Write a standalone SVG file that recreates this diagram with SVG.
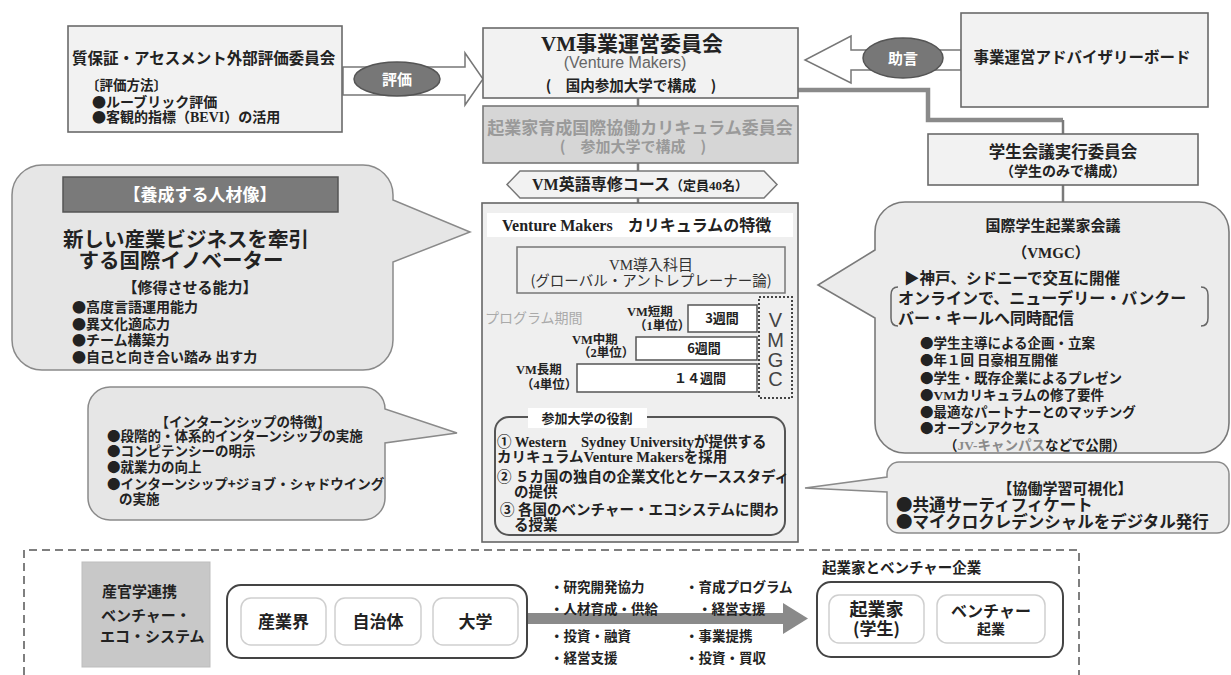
<svg xmlns="http://www.w3.org/2000/svg" width="1231" height="675" viewBox="0 0 1231 675">
<style>
text { fill:#222; }
.jp { font-family:"Noto Sans CJK JP","Liberation Sans",sans-serif; }
.sf { font-family:"Liberation Serif","Noto Sans CJK JP",serif; }
.ls { font-family:"Liberation Sans","Noto Sans CJK JP",sans-serif; }
.b { font-weight:700; }
.m { text-anchor:middle; }
.box { fill:#f2f2f2; stroke:#6a6a6a; stroke-width:1.6; }
.call { fill:#e6e6e6; stroke:#8a8a8a; stroke-width:1.5; }
.bar { fill:#ffffff; stroke:#555; stroke-width:1.5; }
.inner { fill:#ffffff; stroke:#cfcfcf; stroke-width:1.5; }
.cont { fill:#ffffff; stroke:#444; stroke-width:2; }
.line { stroke:#7a7a7a; stroke-width:2.5; fill:none; }
.barrow { fill:#ffffff; stroke:#777; stroke-width:1.5; }
.oval { fill:#777; stroke:#555; stroke-width:1.5; }
.wt { fill:#ffffff; }
.gr { fill:#9a9a9a; }
</style>

<g id="connectors">
  <polygon class="barrow" points="343,67 465,67 465,53 483,79 465,105 465,95 343,95"/>
  <polygon class="barrow" points="961,50 851,50 851,36 805,60 851,83 851,70 961,70"/>
  <path d="M798,90 H928 V120 H1063" stroke="#8a8a8a" stroke-width="4.5" fill="none"/>
  <path d="M1063,120 V134" class="line"/>
  <path d="M1063,185 V202" class="line"/>
  <path d="M638,98 V106 M638,163 V171 M638,198 V203" class="line"/>
  <rect x="527" y="613" width="256" height="11" fill="#8a8a8a"/>
  <polygon points="783,603 808,618.5 783,634" fill="#8a8a8a"/>
</g>

<g id="eval-label">
  <ellipse class="oval" cx="397" cy="79" rx="43" ry="17"/>
  <text class="jp b m wt" x="397" y="84.5" font-size="15">評価</text>
</g>
<g id="advice-label">
  <ellipse class="oval" cx="903" cy="58" rx="40" ry="20"/>
  <text class="jp b m wt" x="903" y="63.5" font-size="15">助言</text>
</g>

<g id="assessment-committee">
  <rect class="box" x="68" y="26" width="274" height="106"/>
  <text class="jp b" x="72" y="63.5" font-size="15.5">質保証・アセスメント外部評価委員会</text>
  <text class="jp b" x="86" y="90" font-size="13.5">〔評価方法〕</text>
  <text class="jp b" x="92" y="106.5" font-size="14">●ルーブリック評価</text>
  <text class="sf b" x="92" y="122" font-size="14"><tspan class="jp">●</tspan>客観的指標（BEVI）の活用</text>
</g>

<g id="vm-committee">
  <rect class="box" x="483" y="28" width="315" height="70" stroke-width="2"/>
  <text class="sf b m" x="632" y="51" font-size="21">VM事業運営委員会</text>
  <text class="ls m" x="625" y="67.5" font-size="16" style="fill:#666">(Venture Makers)</text>
  <text class="jp b m" x="631" y="91" font-size="14.5">(　国内参加大学で構成　)</text>
</g>

<g id="curriculum-committee">
  <rect x="483" y="106" width="315" height="57" fill="#d6d6d6" stroke="#777" stroke-width="1.6"/>
  <text class="jp b m gr" x="640" y="134" font-size="17">起業家育成国際協働カリキュラム委員会</text>
  <text class="jp b m gr" x="633" y="152" font-size="15">(　参加大学で構成　)</text>
</g>

<g id="english-course">
  <polygon points="507,184.5 520,171 764,171 777,184.5 764,198 520,198" fill="#f2f2f2" stroke="#777" stroke-width="1.5"/>
  <text class="sf b m" x="640" y="190" font-size="16">VM英語専修コース<tspan font-size="13">（定員40名）</tspan></text>
</g>

<g id="advisory-board">
  <rect class="box" x="961" y="13" width="247" height="94"/>
  <text class="jp b m" x="1082" y="62.5" font-size="15.5">事業運営アドバイザリーボード</text>
</g>

<g id="student-committee">
  <rect class="box" x="928" y="134" width="270" height="51" fill="#f5f5f5"/>
  <text class="jp b m" x="1063" y="158" font-size="16.5">学生会議実行委員会</text>
  <text class="jp b m" x="1063" y="175.5" font-size="14">（学生のみで構成）</text>
</g>

<g id="curriculum">
  <rect x="482" y="203" width="316" height="339" fill="#efefef" stroke="#666" stroke-width="1.6"/>
  <rect x="487" y="213" width="306" height="24" fill="#ffffff"/>
  <text class="sf b" x="502" y="230.5" font-size="16">Venture Makers<tspan class="jp" dx="15" font-size="16">カリキュラムの特徴</tspan></text>
  <rect x="517" y="247" width="268" height="46" fill="#efefef" stroke="#777" stroke-width="1.5"/>
  <text class="sf m" x="651" y="270" font-size="15" style="fill:#333">VM導入科目</text>
  <text class="jp m" x="651" y="286" font-size="14.5" style="fill:#333">(グローバル・アントレプレーナー論)</text>
  <text class="jp" x="485" y="323" font-size="14" style="fill:#aaa">プログラム期間</text>
  <rect class="bar" x="688" y="305" width="69" height="27"/>
  <rect class="bar" x="636" y="337" width="121" height="23"/>
  <rect class="bar" x="577" y="364" width="180" height="28"/>
  <text class="sf b" x="627" y="316" font-size="12.5">VM短期</text>
  <text class="sf b" x="634" y="330" font-size="12.5">（1単位）</text>
  <text class="jp b m" x="722" y="323" font-size="13">3週間</text>
  <text class="sf b" x="572" y="344" font-size="12.5">VM中期</text>
  <text class="sf b" x="578" y="357" font-size="12.5">（2単位）</text>
  <text class="jp b m" x="704" y="353" font-size="13">6週間</text>
  <text class="sf b" x="516" y="374" font-size="12.5">VM長期</text>
  <text class="sf b" x="521" y="389" font-size="12.5">（4単位）</text>
  <text class="jp b m" x="700" y="383" font-size="13">１４週間</text>
  <rect x="759" y="297" width="33" height="101" fill="none" stroke="#444" stroke-width="2" stroke-dasharray="2,2"/>
  <text class="ls m" x="775.5" y="327" font-size="20" style="fill:#444">V</text>
  <text class="ls m" x="775.5" y="347" font-size="20" style="fill:#444">M</text>
  <text class="ls m" x="775.5" y="367" font-size="20" style="fill:#444">G</text>
  <text class="ls m" x="775.5" y="386" font-size="20" style="fill:#444">C</text>
  <rect x="495" y="417" width="290" height="118" rx="14" fill="none" stroke="#555" stroke-width="2"/>
  <rect x="528" y="408" width="119" height="20" fill="#ffffff"/>
  <text class="jp b m" x="587" y="422.5" font-size="13">参加大学の役割</text>
  <text class="sf b" x="497" y="447" font-size="14.5">①  Western　Sydney Universityが提供する</text>
  <text class="sf b" x="497" y="462" font-size="14.5">カリキュラムVenture Makersを採用</text>
  <text class="sf b" x="497" y="482" font-size="14.5">② ５カ国の独自の企業文化とケーススタディ</text>
  <text class="sf b" x="514" y="497" font-size="14.5">の提供</text>
  <text class="sf b" x="500" y="515" font-size="14.5">③ 各国のベンチャー・エコシステムに関わ</text>
  <text class="sf b" x="514" y="530" font-size="14.5">る授業</text>
</g>

<g id="talent-callout">
  <path class="call" d="M42,165 H363 A30,30 0 0 1 393,195 V200 L470,232 L393,262 V340 A30,30 0 0 1 363,370 H42 A30,30 0 0 1 12,340 V195 A30,30 0 0 1 42,165 Z"/>
  <rect x="63" y="177" width="275" height="35" fill="#7a7a7a" stroke="#555" stroke-width="1.5"/>
  <text class="jp b m wt" x="200" y="201" font-size="17">【養成する人材像】</text>
  <text class="jp b m" x="186" y="247" font-size="20.5">新しい産業ビジネスを牽引</text>
  <text class="jp b m" x="181" y="268" font-size="20.5">する国際イノベーター</text>
  <text class="jp b m" x="190" y="293" font-size="15">【修得させる能力】</text>
  <text class="jp b" x="72" y="312" font-size="14">●高度言語運用能力</text>
  <text class="jp b" x="72" y="328.5" font-size="14">●異文化適応力</text>
  <text class="jp b" x="72" y="345" font-size="14">●チーム構築力</text>
  <text class="jp b" x="72" y="362" font-size="14">●自己と向き合い踏み 出す力</text>
</g>

<g id="internship-callout">
  <path class="call" d="M110,387 H363 A22,22 0 0 1 385,409 L457,433 L385,443 V498 A22,22 0 0 1 363,520 H110 A22,22 0 0 1 88,498 V409 A22,22 0 0 1 110,387 Z"/>
  <text class="jp b m" x="243" y="426.5" font-size="13.5">【インターンシップの特徴】</text>
  <text class="jp b" x="107" y="440.5" font-size="13.5">●段階的・体系的インターンシップの実施</text>
  <text class="jp b" x="107" y="455.5" font-size="13.5">●コンピテンシーの明示</text>
  <text class="jp b" x="107" y="471.5" font-size="13.5">●就業力の向上</text>
  <text class="jp b" x="107" y="488.5" font-size="13.5">●インターンシップ+ジョブ・シャドウイング</text>
  <text class="jp b" x="119" y="503.5" font-size="13.5">の実施</text>
</g>

<g id="vmgc-callout">
  <path d="M905,202 H1199 A30,30 0 0 1 1229,232 V423 A30,30 0 0 1 1199,453 H905 A30,30 0 0 1 875,423 V318 L818,285 L875,250 V232 A30,30 0 0 1 905,202 Z" fill="#ececec" stroke="#7a7a7a" stroke-width="1.6"/>
  <text class="jp b m" x="1053" y="230.5" font-size="15">国際学生起業家会議</text>
  <text class="sf b m" x="1051" y="257.5" font-size="15">（VMGC）</text>
  <text class="jp b" x="904" y="284" font-size="15.5">▶神戸、シドニーで交互に開催</text>
  <path d="M898,287 Q891,287 891,295 V318 Q891,326 898,326 M1201,287 Q1208,287 1208,295 V318 Q1208,326 1201,326" fill="none" stroke="#666" stroke-width="1.5"/>
  <text class="jp b" x="898" y="304" font-size="16">オンラインで、ニューデリー・バンクー</text>
  <text class="jp b" x="898" y="324" font-size="16">バー・キールへ同時配信</text>
  <text class="jp b" x="920" y="348" font-size="13.5">●学生主導による企画・立案</text>
  <text class="jp b" x="920" y="365" font-size="13.5">●年１回 日豪相互開催</text>
  <text class="jp b" x="920" y="383" font-size="13.5">●学生・既存企業によるプレゼン</text>
  <text class="sf b" x="920" y="400" font-size="13.5"><tspan class="jp">●</tspan>VMカリキュラムの修了要件</text>
  <text class="jp b" x="920" y="417" font-size="13.5">●最適なパートナーとのマッチング</text>
  <text class="jp b" x="920" y="433" font-size="13.5">●オープンアクセス</text>
  <text class="sf b" x="944" y="450" font-size="13.5">（<tspan style="fill:#8a8a8a">JV-キャンパス</tspan>などで公開）</text>
</g>

<g id="visualization-callout">
  <path d="M899,462 H1217 A12,12 0 0 1 1229,474 V521 A12,12 0 0 1 1217,533 H899 A12,12 0 0 1 887,521 V492 L805,488 L887,477 V474 A12,12 0 0 1 899,462 Z" fill="#ededed" stroke="#8a8a8a" stroke-width="1.5"/>
  <text class="jp b m" x="1065" y="494" font-size="15">【協働学習可視化】</text>
  <text class="jp b" x="896" y="511" font-size="16.5">●共通サーティフィケート</text>
  <text class="jp b" x="896" y="527.5" font-size="16.5">●マイクロクレデンシャルをデジタル発行</text>
</g>

<g id="ecosystem">
  <path d="M24,675 V550 H1079 V675" fill="none" stroke="#555" stroke-width="1.5" stroke-dasharray="8,5"/>
  <rect x="82" y="562" width="128" height="105" fill="#c8c8c8" stroke="#bdbdbd" stroke-width="1"/>
  <text class="jp b" x="102" y="597" font-size="15">産官学連携</text>
  <text class="jp b" x="101" y="621" font-size="15">ベンチャー・</text>
  <text class="jp b" x="100" y="642" font-size="15">エコ・システム</text>
</g>

<g id="sector-group">
  <rect class="cont" x="227" y="585" width="300" height="73" rx="14"/>
  <rect class="inner" x="241" y="598" width="85" height="47" rx="10"/>
  <rect class="inner" x="335" y="598" width="86" height="47" rx="10"/>
  <rect class="inner" x="433" y="598" width="85" height="47" rx="10"/>
  <text class="jp b m" x="283.5" y="628" font-size="17">産業界</text>
  <text class="jp b m" x="378" y="628" font-size="17">自治体</text>
  <text class="jp b m" x="475.5" y="628" font-size="17">大学</text>
</g>

<g id="support-labels">
  <text class="jp b" x="550" y="592" font-size="13.5">・研究開発協力</text>
  <text class="jp b" x="550" y="614" font-size="13.5">・人材育成・供給</text>
  <text class="jp b" x="550" y="641" font-size="13.5">・投資・融資</text>
  <text class="jp b" x="550" y="663" font-size="13.5">・経営支援</text>
  <text class="jp b" x="685" y="592" font-size="13.5">・育成プログラム</text>
  <text class="jp b" x="698" y="614" font-size="13.5">・経営支援</text>
  <text class="jp b" x="685" y="641" font-size="13.5">・事業提携</text>
  <text class="jp b" x="685" y="663" font-size="13.5">・投資・買収</text>
</g>

<g id="entrepreneurs">
  <text class="jp b" x="822" y="573" font-size="14.5">起業家とベンチャー企業</text>
  <rect class="cont" x="817" y="582" width="246" height="75" rx="14"/>
  <rect class="inner" x="829" y="595" width="95" height="48" rx="10"/>
  <rect class="inner" x="937" y="595" width="108" height="48" rx="10"/>
  <text class="jp b m" x="876.5" y="616" font-size="18">起業家</text>
  <text class="jp b m" x="876.5" y="635" font-size="17">(学生)</text>
  <text class="jp b m" x="991" y="617" font-size="16">ベンチャー</text>
  <text class="jp b m" x="991" y="634" font-size="14">起業</text>
</g>
</svg>
